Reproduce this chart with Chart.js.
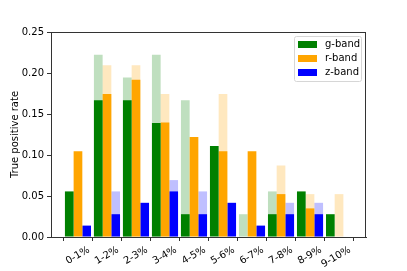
<!DOCTYPE html>
<html>
<head>
<meta charset="utf-8">
<script src="https://cdn.jsdelivr.net/npm/chart.js@4"></script>
<style>
  html, body { margin: 0; padding: 0; background: #fff; }
  #wrap { width: 407px; height: 271px; }
</style>
</head>
<body>
<div id="wrap"><canvas id="chart"></canvas></div>
<script>
const categories = ["0-1%", "1-2%", "2-3%", "3-4%", "4-5%", "5-6%", "6-7%", "7-8%", "8-9%", "9-10%"];

// solid bars
const gBand = [0.0556, 0.1667, 0.1667, 0.1389, 0.0278, 0.1111, 0, 0.0278, 0.0556, 0.0278];
const rBand = [0.1047, 0.1744, 0.1919, 0.1395, 0.1221, 0.1047, 0.1047, 0.0523, 0.0349, 0];
const zBand = [0.0139, 0.0278, 0.0417, 0.0556, 0.0278, 0.0417, 0.0139, 0.0278, 0.0278, 0];

// faded bars behind them
const gFaded = [0, 0.2222, 0.1944, 0.2222, 0.1667, 0, 0.0278, 0.0556, 0, 0];
const rFaded = [0, 0.2093, 0.2093, 0.1744, 0, 0.1744, 0, 0.0872, 0.0523, 0.0523];
const zFaded = [0, 0.0556, 0, 0.0694, 0.0556, 0, 0, 0.0417, 0.0417, 0];

const yTicks = [0, 0.05, 0.10, 0.15, 0.20, 0.25];

const font = "DejaVu Sans";
const points = (arr) => arr.map((v, i) => ({ x: i, y: v }));

const bands = [
  { label: "g-band", solid: gBand, faded: gFaded, color: "#008000", light: "rgba(0,128,0,0.25)", stack: "g" },
  { label: "r-band", solid: rBand, faded: rFaded, color: "#ffa500", light: "rgba(255,165,0,0.25)", stack: "r" },
  { label: "z-band", solid: zBand, faded: zFaded, color: "#0000ff", light: "rgba(0,0,255,0.25)", stack: "z" },
];

const datasets = [];
bands.forEach((b) => {
  datasets.push({ label: b.label, data: points(b.solid), backgroundColor: b.color, stack: b.stack, order: 0 });
});
bands.forEach((b) => {
  datasets.push({ label: b.label + " (all)", data: points(b.faded), backgroundColor: b.light, stack: b.stack, order: 1 });
});

const frameAndLegend = {
  id: "frameAndLegend",
  afterDatasetsDraw(chart) {
    const { ctx, chartArea: a } = chart;
    ctx.save();
    ctx.strokeStyle = "#333";
    ctx.lineWidth = 1;
    ctx.strokeRect(Math.round(a.left) + 0.5, Math.round(a.top) + 0.5,
      Math.round(a.right - a.left) - 1, Math.round(a.bottom - a.top));

    // legend box, upper right
    const bx = 294.5, by = 36.5, bw = 67, bh = 45;
    ctx.fillStyle = "rgba(255,255,255,0.8)";
    ctx.strokeStyle = "#d6d6d6";
    ctx.beginPath();
    ctx.roundRect(bx, by, bw, bh, 2);
    ctx.fill();
    ctx.stroke();

    ctx.font = "10px '" + font + "'";
    ctx.textBaseline = "middle";
    bands.forEach((b, i) => {
      const cy = 44.5 + i * 14;
      ctx.fillStyle = b.color;
      ctx.fillRect(298, cy - 3.5, 19, 7);
      ctx.fillStyle = "#000";
      ctx.fillText(b.label, 325, cy);
    });
    ctx.restore();
  },
};

new Chart(document.getElementById("chart"), {
  type: "bar",
  data: { datasets: datasets },
  plugins: [frameAndLegend],
  options: {
    responsive: true,
    maintainAspectRatio: false,
    animation: false,
    devicePixelRatio: 1,
    layout: { padding: { top: 32, right: 41, left: 0, bottom: 0 } },
    datasets: {
      bar: { categoryPercentage: 0.9, barPercentage: 1.0, borderWidth: 0 },
    },
    plugins: {
      legend: { display: false },
      tooltip: { enabled: false },
    },
    scales: {
      x: {
        type: "linear",
        min: -0.93,
        max: 9.93,
        offset: false,
        afterBuildTicks: (axis) => {
          axis.ticks = categories.map((_, i) => ({ value: i }));
        },
        afterFit: (scale) => { scale.height = 34; },
        ticks: {
          autoSkip: false,
          minRotation: 30,
          maxRotation: 30,
          labelOffset: 11,
          padding: 3,
          color: "#000",
          font: { family: font, size: 10 },
          callback: (v) => categories[v] ?? "",
        },
        grid: { drawOnChartArea: false, tickLength: 4, color: "#333" },
        border: { color: "#333", width: 1 },
      },
      y: {
        min: 0,
        max: 0.25,
        stacked: false,
        afterBuildTicks: (axis) => {
          axis.ticks = yTicks.map((v) => ({ value: v }));
        },
        afterFit: (scale) => { scale.width = 51; },
        ticks: {
          padding: 3,
          color: "#000",
          font: { family: font, size: 10 },
          callback: (v) => v.toFixed(2),
        },
        grid: { drawOnChartArea: false, tickLength: 4, color: "#333" },
        border: { color: "#333", width: 1 },
        title: {
          display: true,
          text: "True positive rate",
          color: "#000",
          font: { family: font, size: 10 },
          padding: { top: 9, bottom: 0 },
        },
      },
    },
  },
});
</script>
</body>
</html>
